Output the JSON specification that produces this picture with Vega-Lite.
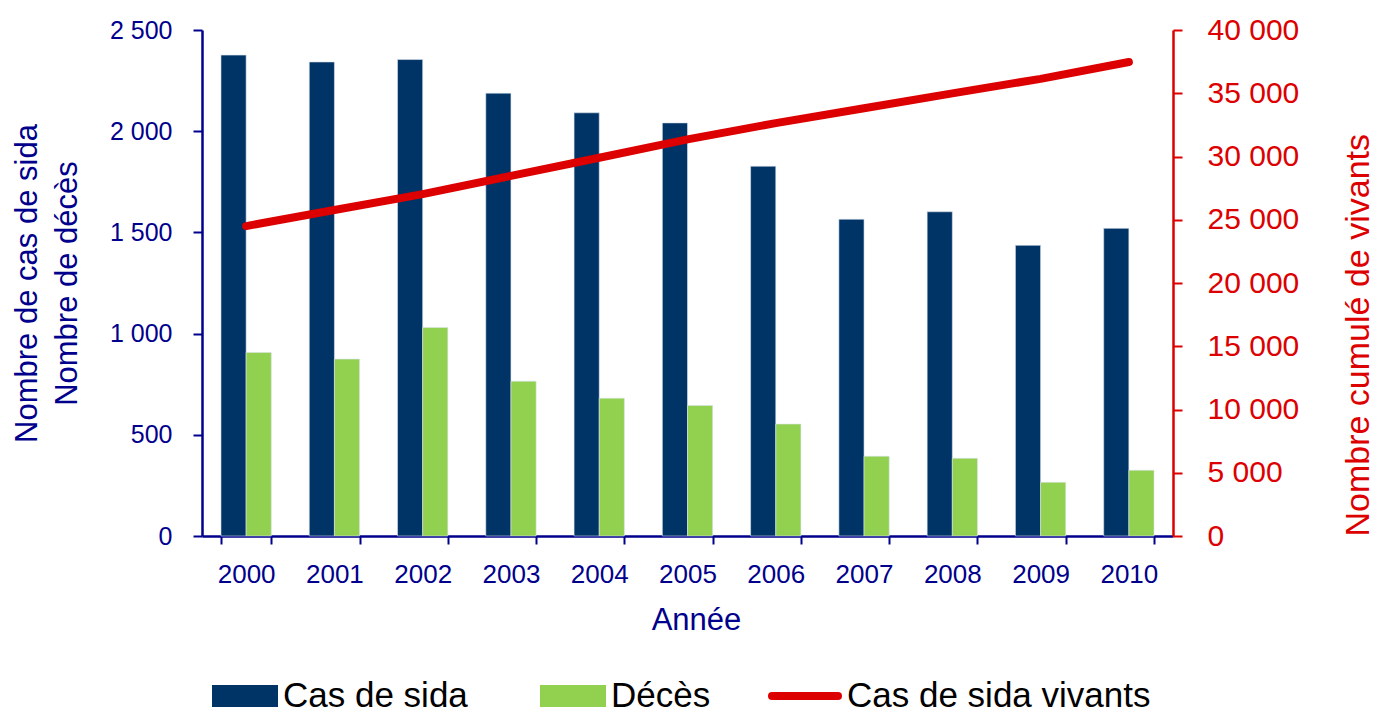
{
  "$schema": "https://vega.github.io/schema/vega-lite/v6.json",
  "width": 971,
  "height": 506,
  "autosize": {"type": "none"},
  "padding": {"left": 202, "top": 30, "right": 202, "bottom": 179},
  "background": "white",
  "config": {"view": {"stroke": null}, "font": "Liberation Sans"},
  "datasets": {
    "bars": [
      {"annee": "2000", "serie": "Cas de sida", "valeur": 2376},
      {"annee": "2000", "serie": "Décès", "valeur": 907},
      {"annee": "2001", "serie": "Cas de sida", "valeur": 2342},
      {"annee": "2001", "serie": "Décès", "valeur": 874},
      {"annee": "2002", "serie": "Cas de sida", "valeur": 2354},
      {"annee": "2002", "serie": "Décès", "valeur": 1030},
      {"annee": "2003", "serie": "Cas de sida", "valeur": 2188},
      {"annee": "2003", "serie": "Décès", "valeur": 765},
      {"annee": "2004", "serie": "Cas de sida", "valeur": 2091},
      {"annee": "2004", "serie": "Décès", "valeur": 681},
      {"annee": "2005", "serie": "Cas de sida", "valeur": 2041},
      {"annee": "2005", "serie": "Décès", "valeur": 645},
      {"annee": "2006", "serie": "Cas de sida", "valeur": 1827},
      {"annee": "2006", "serie": "Décès", "valeur": 553},
      {"annee": "2007", "serie": "Cas de sida", "valeur": 1565},
      {"annee": "2007", "serie": "Décès", "valeur": 394},
      {"annee": "2008", "serie": "Cas de sida", "valeur": 1602},
      {"annee": "2008", "serie": "Décès", "valeur": 384},
      {"annee": "2009", "serie": "Cas de sida", "valeur": 1436},
      {"annee": "2009", "serie": "Décès", "valeur": 265},
      {"annee": "2010", "serie": "Cas de sida", "valeur": 1520},
      {"annee": "2010", "serie": "Décès", "valeur": 325}
    ],
    "ligne": [
      {"annee": "2000", "vivants": 24500},
      {"annee": "2001", "vivants": 25770},
      {"annee": "2002", "vivants": 27030},
      {"annee": "2003", "vivants": 28470},
      {"annee": "2004", "vivants": 29900},
      {"annee": "2005", "vivants": 31350},
      {"annee": "2006", "vivants": 32640},
      {"annee": "2007", "vivants": 33810},
      {"annee": "2008", "vivants": 34990},
      {"annee": "2009", "vivants": 36140},
      {"annee": "2010", "vivants": 37470}
    ]
  },
  "layer": [
    {
      "data": {"name": "bars"},
      "mark": {"type": "bar", "stroke": "#dbe3ec", "strokeWidth": 0.6},
      "encoding": {
        "x": {
          "field": "annee",
          "type": "nominal",
          "scale": {"paddingInner": 0.43, "paddingOuter": 0.215},
          "axis": {
            "title": "Année",
            "titleX": 494,
            "labelAngle": 0,
            "domainColor": "#00008C",
            "domainWidth": 2.5,
            "tickColor": "#00008C",
            "tickWidth": 2,
            "tickSize": 8,
            "tickBand": "extent",
            "labelFontSize": 26,
            "labelColor": "#00008C",
            "labelPadding": 17,
            "titleFontSize": 31,
            "titleFontWeight": "normal",
            "titleColor": "#00008C",
            "titlePadding": 18,
            "grid": false
          }
        },
        "xOffset": {"field": "serie", "type": "nominal", "scale": {"domain": ["Cas de sida", "Décès"], "paddingInner": 0, "paddingOuter": 0}},
        "y": {
          "field": "valeur",
          "type": "quantitative",
          "scale": {"domain": [0, 2500], "nice": false},
          "axis": {
            "values": [0, 500, 1000, 1500, 2000, 2500],
            "labelExpr": "replace(format(datum.value, ','), ',', ' ')",
            "title": ["Nombre de cas de sida", "Nombre de décès"],
            "domainColor": "#00008C",
            "domainWidth": 2.5,
            "tickColor": "#00008C",
            "tickWidth": 2,
            "tickSize": 9,
            "labelFontSize": 25,
            "labelColor": "#00008C",
            "labelPadding": 21,
            "titleFontSize": 31,
            "titleLineHeight": 40,
            "titleFontWeight": "normal",
            "titleColor": "#00008C",
            "titlePadding": 26,
            "grid": false
          }
        },
        "color": {
          "field": "serie",
          "type": "nominal",
          "scale": {"domain": ["Cas de sida", "Décès"], "range": ["#003366", "#92D050"]},
          "legend": {
            "title": null,
            "orient": "none",
            "direction": "horizontal",
            "legendX": 10,
            "legendY": 633,
            "padding": 0,
            "symbolType": "M-1,-0.335H1V0.335H-1Z",
            "symbolSize": 4356,
            "symbolStrokeWidth": 0,
            "symbolOpacity": 1,
            "labelFontSize": 35,
            "labelColor": "#000000",
            "labelOffset": 5,
            "columnPadding": 72,
            "labelLimit": 500
          }
        }
      }
    },
    {
      "data": {"name": "ligne"},
      "mark": {"type": "line", "strokeWidth": 8, "strokeCap": "round", "strokeJoin": "round"},
      "encoding": {
        "x": {"field": "annee", "type": "nominal"},
        "y": {
          "field": "vivants",
          "type": "quantitative",
          "scale": {"domain": [0, 40000], "nice": false},
          "axis": {
            "orient": "right",
            "values": [0, 5000, 10000, 15000, 20000, 25000, 30000, 35000, 40000],
            "labelExpr": "replace(format(datum.value, ','), ',', ' ')",
            "title": "Nombre cumulé de vivants",
            "titleAngle": 270,
            "titleAnchor": "start",
            "domainColor": "#DD0000",
            "domainWidth": 2.5,
            "tickColor": "#DD0000",
            "tickWidth": 2,
            "tickSize": 9,
            "labelFontSize": 30,
            "labelColor": "#DD0000",
            "labelPadding": 25,
            "titleFontSize": 34,
            "titleFontWeight": "normal",
            "titleColor": "#DD0000",
            "titlePadding": 77,
            "grid": false
          }
        },
        "stroke": {
          "datum": "Cas de sida vivants",
          "type": "nominal",
          "scale": {"domain": ["Cas de sida vivants"], "range": ["#DD0000"]},
          "legend": {
            "title": null,
            "orient": "none",
            "direction": "horizontal",
            "legendX": 566,
            "legendY": 629,
            "padding": 0,
            "symbolType": "stroke",
            "symbolSize": 4356,
            "symbolStrokeWidth": 8,
            "labelFontSize": 35,
            "labelColor": "#000000",
            "labelOffset": 5,
            "labelLimit": 500,
            "encode": {"symbols": {"update": {"strokeCap": {"value": "round"}}}}
          }
        }
      }
    }
  ],
  "resolve": {"scale": {"y": "independent"}}
}
